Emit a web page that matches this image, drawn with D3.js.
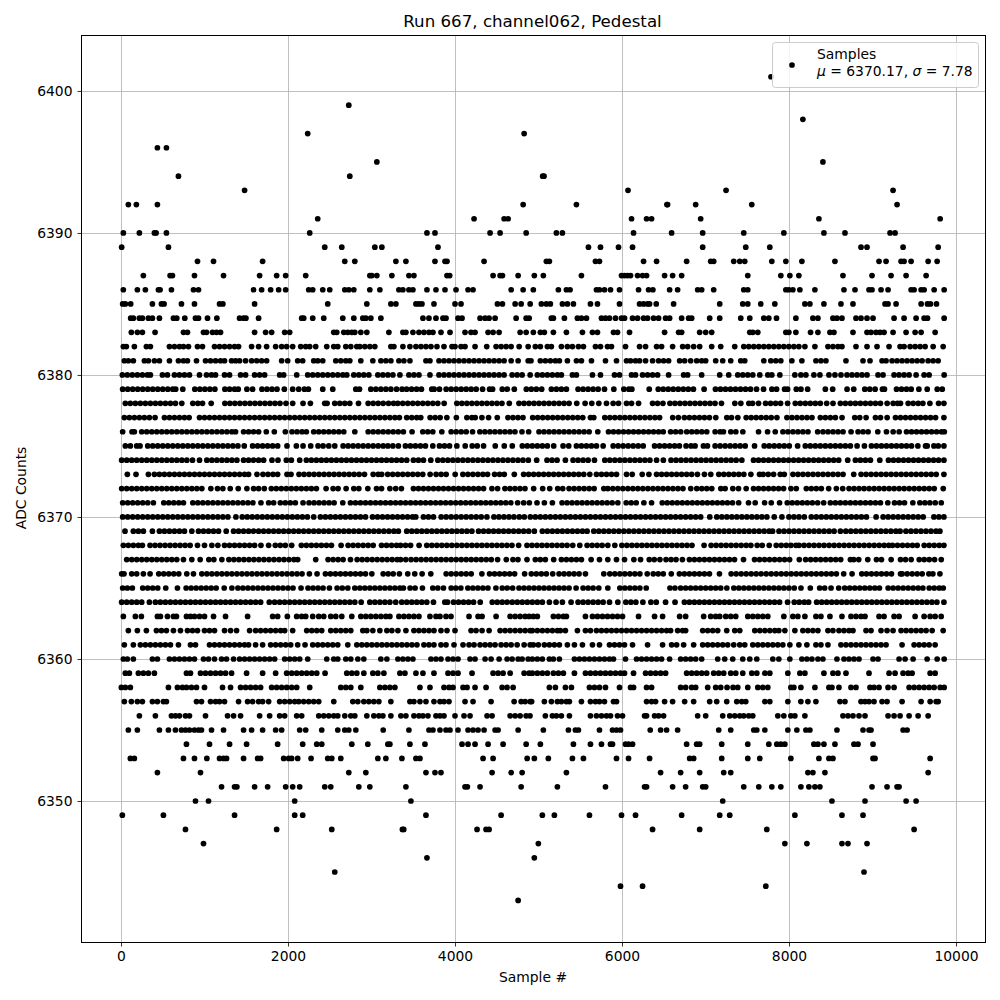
<!DOCTYPE html>
<html><head><meta charset="utf-8">
<script src="https://cdn.jsdelivr.net/npm/d3@7"></script>
<style>html,body{margin:0;padding:0;background:#fff}svg{display:block}text{font-family:"DejaVu Sans";fill:#000}</style>
</head><body><svg id="c" width="1000" height="1000"></svg>
<script>
// Values estimated by eye from the reference; inside solid bands the positions are hand estimates of the visible blobs.
const title="Run 667, channel062, Pedestal", xLabel="Sample #", yLabel="ADC Counts";
const xTicks=[0,2000,4000,6000,8000,10000], yTicks=[6350,6360,6370,6380,6390,6400];
const row6401=[7784];
const row6399=[2728];
const row6398=[8166];
const row6397=[2236,4828];
const row6396=[436,544];
const row6395=[3064,8406];
const row6394=[688,2740,5050,5066];
const row6393=[1480,6072,7246,9246];
const row6392=[88,184,436,4816,5454,6538,6546,6882,7554,9294];
const row6391=[2356,4228,4588,4636,6114,6294,6354,6942,8358,9810];
const row6390=[28,220,400,420,544,2260,3664,3760,4420,4540,4852,5214,5286,6138,6594,6966,7458,7938,8418,8670,9210,9270];
const row6389=[8,568,2440,2644,3040,3124,3796,5598,5742,5958,6126,6966,7482,7770,8862,8934,9366,9786];
const row6388=[916,1108,1696,2680,2800,3292,3412,3760,3880,3904,4348,5094,5130,5682,5730,6258,6414,6774,7062,7098,7338,7410,7470,7794,7962,8154,8550,9078,9162,9342,9378,9462,9666,9774];
const row6387=[268,588,616,880,1228,1660,1864,1972,2212,2980,3004,3064,3244,3448,3508,3904,3936,4456,4540,4568,4756,4950,5058,5514,5994,6030,6066,6102,6186,6246,6294,6510,6606,6714,7506,7902,8010,8118,8646,8994,9222,9402,9642];
const row6386=[28,196,292,448,468,604,868,928,1588,1684,1792,1888,1972,2248,2296,2416,2500,2680,2728,2788,2980,3100,3328,3376,3448,3496,3664,3772,3880,4012,4156,4216,4672,4816,4938,5238,5334,5378,5694,5730,5790,5862,5970,6198,6318,6370,6570,6666,6906,6954,7098,7458,7506,7962,7998,8046,8130,8310,8658,8790,8958,8994,9102,9186,9462,9498,9582,9618,9738,9858];
const row6385=[20,52,116,376,484,516,724,880,1180,1220,1600,2476,2944,3232,3292,3532,3568,3604,3748,4000,4072,4508,4568,4720,4792,4900,5034,5094,5142,5286,5346,5418,5622,5706,5970,6210,6258,6306,6330,6410,6618,7170,7446,7506,7662,7830,8190,8250,8418,8622,8766,9150,9186,9282,9582,9658,9694,9766];
const row6384=[116,148,220,256,328,376,460,628,668,764,892,928,1036,1148,1420,1468,1496,1648,2164,2188,2296,2428,2656,2788,2896,2932,2992,3112,3616,3688,3772,3856,3892,4036,4084,4300,4360,4408,4480,4732,4852,4888,5154,5178,5310,5466,5514,5574,5754,5802,5850,5922,5994,6030,6126,6186,6258,6306,6378,6438,6522,6570,6714,6798,6834,7050,7170,7422,7530,7698,7758,7850,8082,8286,8346,8526,8574,8634,8802,8862,8934,9006,9258,9378,9522,9618,9658,9858];
const row6383=[124,196,256,408,748,796,988,1024,1096,1144,1192,1600,1732,1804,1960,2020,2548,2584,2668,2716,2764,2800,2872,2944,3208,3376,3412,3496,3568,3628,3688,3736,3832,3940,4120,4192,4240,4396,4456,4528,4780,4852,4938,5022,5070,5178,5334,5526,5646,5706,5898,5946,6090,6510,6678,6714,6930,7002,7074,7530,7566,7626,7962,7998,8082,8258,8346,8490,8538,8766,8934,8982,9042,9090,9138,9246,9402,9510,9582,9750];
const row6382=[28,64,160,304,352,580,640,700,748,808,916,976,1120,1180,1240,1300,1360,1408,1564,1648,1744,1852,1924,1984,2056,2152,2212,2260,2332,2464,2548,2596,2692,2752,2824,2860,2920,2980,3040,3232,3268,3376,3460,3532,3592,3652,3712,3784,3868,3964,4000,4072,4120,4240,4380,4492,4552,4612,4672,4768,4876,4962,5022,5106,5154,5274,5346,5406,5478,5538,5682,5742,5826,5874,6042,6210,6282,6414,6474,6606,6726,6786,6858,6930,7074,7182,7350,7458,7518,7578,7638,7698,7758,7818,7878,7938,7998,8058,8118,8190,8310,8466,8526,8586,8634,8802,8934,9054,9198,9330,9378,9450,9510,9570,9630,9726,9846];
const row6381=[40,88,148,280,328,400,460,580,688,748,796,904,1012,1072,1132,1192,1240,1324,1372,1420,1492,1564,1624,1684,1744,1924,1996,2116,2176,2308,2356,2416,2572,2632,2692,2740,2872,3016,3112,3172,3232,3328,3388,3460,3652,3700,3808,3868,3928,3988,4048,4108,4168,4228,4288,4348,4408,4468,4528,4588,4672,4756,4876,4910,5022,5082,5142,5202,5250,5346,5454,5514,5634,5802,5934,6054,6102,6162,6210,6282,6366,6438,6498,6558,6690,6750,6822,6894,6954,7002,7122,7206,7302,7422,7470,7698,7782,7842,7902,8034,8154,8322,8382,8442,8682,8886,8970,9114,9162,9234,9294,9354,9414,9474,9534,9594,9666,9726,9786];
const row6380=[16,76,136,196,256,316,352,496,556,640,700,760,820,940,1024,1084,1132,1240,1300,1432,1492,1600,1660,1720,1900,1948,2104,2236,2296,2356,2416,2476,2536,2596,2656,2704,2788,2848,2908,2968,3076,3136,3196,3256,3340,3448,3508,3568,3700,3808,3868,3928,3988,4048,4108,4168,4228,4288,4348,4408,4468,4528,4588,4684,4744,4804,4900,4986,5046,5106,5166,5226,5274,5406,5454,5646,5742,5910,5970,6114,6162,6246,6306,6366,6426,6558,6738,6786,6954,7170,7278,7386,7446,7506,7566,7650,7746,7794,7890,8070,8142,8202,8298,8370,8478,8550,8622,8694,8754,8814,8874,8934,9066,9126,9258,9318,9378,9438,9522,9618,9678,9858];
const row6379=[20,80,140,200,260,320,380,440,500,560,620,655,740,884,944,1004,1064,1124,1244,1300,1360,1404,1508,1576,1688,1748,1808,1868,1956,2056,2128,2196,2244,2416,2536,2812,2856,2992,3052,3112,3172,3232,3300,3366,3420,3480,3540,3598,3722,3750,3814,3894,3954,4014,4074,4134,4194,4254,4330,4414,4450,4566,4626,4710,4854,4914,4974,5038,5154,5214,5274,5334,5474,5534,5594,5654,5714,5790,5902,6022,6082,6118,6326,6434,6494,6554,6614,6674,6734,6794,6855,6983,7119,7179,7239,7299,7359,7419,7479,7539,7611,7695,7795,7851,7947,7983,8087,8143,8223,8435,8523,8695,8775,8907,8967,9031,9119,9143,9287,9347,9407,9463,9555,9655,9775,9835];
const row6378=[52,112,172,232,292,352,412,472,532,592,652,728,860,920,976,1080,1244,1304,1364,1424,1484,1544,1604,1664,1724,1784,1844,1904,1976,2056,2180,2268,2440,2468,2560,2620,2680,2740,2844,2960,3020,3080,3140,3204,3264,3314,3374,3434,3494,3554,3614,3674,3734,3794,3870,4022,4082,4142,4202,4262,4322,4382,4442,4502,4562,4650,4766,4826,4886,4946,5006,5066,5126,5186,5246,5306,5366,5458,5558,5638,5722,5814,5894,5958,6054,6114,6198,6366,6426,6490,6574,6634,6694,6754,6814,6874,6934,6994,7054,7114,7191,7351,7423,7519,7563,7635,7719,7779,7839,7899,7983,8075,8135,8195,8255,8315,8375,8451,8527,8615,8675,8735,8795,8855,8915,8975,9035,9095,9175,9247,9299,9335,9427,9487,9547,9603,9687,9791,9855];
const row6377=[40,100,160,220,280,340,408,520,580,640,700,760,816,940,1000,1060,1120,1180,1240,1300,1360,1420,1480,1540,1600,1660,1720,1780,1840,1900,1960,2020,2080,2140,2200,2260,2320,2380,2440,2500,2560,2620,2680,2740,2800,2860,2920,2980,3040,3100,3160,3220,3280,3334,3422,3482,3542,3590,3702,3762,3822,3902,4016,4142,4202,4242,4322,4402,4506,4634,4694,4754,4814,4930,4990,5050,5110,5170,5230,5290,5350,5410,5470,5530,5622,5662,5794,5854,5914,5974,6034,6094,6154,6214,6274,6334,6394,6450,6607,6675,6747,6807,6867,6927,6987,7047,7123,7255,7311,7387,7487,7547,7607,7667,7727,7787,7855,7975,8035,8095,8155,8215,8275,8375,8435,8495,8555,8635,8787,8847,8923,9035,9095,9175,9275,9335,9395,9455,9515,9575,9635,9695,9755,9855];
const row6376=[20,132,160,248,308,368,428,488,548,608,668,728,788,848,908,968,1028,1088,1148,1208,1268,1328,1372,1468,1528,1588,1648,1740,1836,1968,2048,2108,2168,2220,2308,2368,2428,2488,2548,2608,2668,2800,2960,3020,3080,3140,3200,3260,3320,3382,3486,3614,3674,3734,3842,3954,4014,4074,4134,4210,4298,4358,4418,4478,4538,4598,4658,4718,4802,4882,5006,5066,5126,5186,5246,5306,5366,5426,5486,5546,5606,5710,5838,5898,5958,6018,6078,6138,6198,6258,6318,6378,6438,6494,6582,6642,6703,6775,6835,6895,6955,7015,7115,7175,7215,7303,7363,7447,7635,7743,7835,7927,7987,8047,8107,8167,8227,8343,8407,8467,8527,8587,8647,8743,8827,8887,8947,9063,9167,9247,9319,9407,9467,9527,9587,9647,9707,9767,9827,9860];
const row6375=[52,112,188,228,320,380,440,500,560,620,680,740,800,860,920,980,1040,1100,1160,1220,1280,1340,1400,1476,1576,1636,1696,1756,1816,1876,1988,2100,2180,2272,2360,2420,2488,2560,2660,2720,2780,2840,2900,2960,3020,3080,3140,3196,3256,3322,3406,3466,3526,3586,3646,3734,3814,3874,3934,4022,4122,4206,4266,4342,4482,4590,4686,4806,4866,4926,4986,5046,5106,5182,5294,5362,5454,5514,5574,5634,5694,5774,5894,5954,6014,6074,6134,6194,6254,6390,6450,6510,6570,6630,6687,6767,6827,6875,6975,7023,7115,7175,7235,7295,7355,7415,7475,7587,7703,7763,7823,7883,7943,8003,8103,8195,8255,8315,8375,8435,8495,8555,8615,8675,8735,8815,8903,8987,9047,9107,9167,9227,9287,9347,9407,9467,9543,9635,9655,9735,9787,9855];
const row6374=[8,68,128,188,248,308,368,428,488,548,608,668,728,788,856,940,1028,1088,1148,1208,1268,1328,1388,1468,1528,1588,1648,1708,1808,1880,1980,2040,2140,2220,2280,2340,2400,2460,2520,2580,2640,2700,2760,2820,2880,2940,3000,3060,3120,3180,3240,3300,3360,3422,3502,3562,3622,3710,3794,3854,3914,3974,4034,4094,4154,4214,4274,4334,4394,4454,4514,4574,4634,4694,4754,4814,4878,4978,5102,5162,5222,5322,5414,5474,5534,5594,5670,5794,5854,5914,5974,6034,6094,6154,6214,6274,6334,6414,6495,6587,6647,6707,6767,6827,6887,6947,7007,7067,7127,7187,7247,7307,7367,7435,7575,7635,7695,7755,7815,7875,7935,7995,8055,8115,8175,8235,8295,8355,8415,8475,8535,8595,8703,8795,8855,8915,8975,9087,9191,9251,9311,9371,9431,9491,9551,9611,9671,9731,9791,9855];
const row6373=[76,180,328,400,460,520,580,640,700,760,820,880,940,1000,1060,1120,1180,1240,1300,1360,1420,1480,1528,1628,1700,1760,1820,1876,1988,2036,2132,2192,2252,2312,2372,2432,2492,2552,2612,2672,2732,2792,2852,2916,3020,3080,3122,3194,3254,3314,3374,3434,3494,3554,3614,3702,3774,3834,3894,4002,4094,4154,4214,4274,4334,4390,4474,4534,4590,4710,4822,4882,4942,5002,5062,5122,5182,5242,5302,5362,5422,5482,5542,5614,5694,5754,5814,5874,5934,6054,6122,6242,6322,6414,6474,6534,6594,6654,6714,6774,6834,6903,6987,7063,7159,7219,7279,7339,7399,7459,7543,7647,7690,7751,7815,7895,7943,8047,8107,8167,8227,8287,8347,8407,8467,8527,8587,8647,8775,8863,8923,8983,9043,9103,9163,9223,9283,9343,9403,9463,9523,9583,9643,9703,9763,9855];
const row6372=[8,68,128,188,248,308,368,428,488,548,608,668,728,788,848,908,968,1076,1156,1220,1308,1404,1508,1588,1648,1716,1800,1860,1920,1980,2040,2100,2160,2220,2280,2340,2456,2540,2600,2696,2788,2848,2956,3060,3120,3220,3290,3358,3502,3562,3622,3682,3742,3802,3862,3922,3982,4042,4102,4162,4222,4282,4342,4442,4510,4598,4658,4718,4778,4838,4942,5050,5134,5230,5290,5366,5426,5486,5546,5606,5666,5782,5830,5890,5950,6010,6070,6130,6190,6250,6310,6370,6430,6490,6550,6610,6670,6730,6823,6895,6955,7015,7075,7183,7235,7327,7395,7487,7575,7635,7695,7755,7815,7875,7935,8023,8087,8207,8267,8327,8387,8475,8567,8643,8719,8779,8839,8899,8959,9019,9079,9139,9199,9259,9319,9379,9439,9499,9559,9619,9679,9739,9847];
const row6371=[20,80,140,200,260,320,388,512,572,632,692,748,860,920,980,1040,1100,1160,1220,1280,1340,1400,1460,1520,1580,1676,1768,1828,1908,1968,2028,2088,2180,2252,2312,2372,2432,2492,2552,2656,2748,2808,2868,2928,2988,3048,3108,3168,3228,3288,3348,3408,3468,3528,3588,3648,3708,3768,3828,3888,3948,4008,4068,4128,4188,4248,4308,4368,4428,4488,4548,4608,4668,4750,4822,4890,4982,5070,5166,5282,5342,5402,5462,5522,5582,5642,5702,5762,5822,5882,5950,6050,6110,6170,6262,6354,6482,6542,6602,6662,6722,6782,6842,6902,6962,7022,7082,7142,7202,7262,7323,7397,7515,7595,7707,7787,7887,7979,8039,8099,8159,8219,8279,8343,8415,8495,8555,8615,8675,8735,8795,8855,8915,8975,9035,9095,9183,9263,9323,9383,9483,9567,9627,9687,9751,9823];
const row6370=[20,80,140,200,260,320,380,440,500,560,620,680,740,800,860,920,980,1040,1100,1160,1220,1280,1376,1452,1512,1572,1632,1692,1752,1812,1872,1932,1992,2052,2112,2172,2232,2308,2388,2448,2508,2568,2628,2688,2748,2808,2868,2928,3012,3072,3132,3192,3252,3312,3372,3432,3492,3530,3622,3682,3742,3834,3894,3954,4014,4074,4134,4194,4254,4314,4382,4466,4526,4586,4646,4706,4770,4830,4902,4962,5022,5082,5142,5202,5262,5322,5382,5442,5502,5562,5622,5682,5742,5802,5862,5922,5982,6042,6102,6162,6222,6282,6342,6402,6462,6522,6582,6642,6702,6762,6822,6882,6942,7051,7135,7195,7255,7315,7375,7435,7495,7555,7615,7675,7735,7823,7915,7999,8059,8119,8183,8267,8327,8387,8447,8507,8567,8627,8687,8747,8807,8867,8927,9043,9127,9187,9247,9307,9367,9427,9487,9547,9607,9735,9795,9855];
const row6369=[48,148,208,268,376,460,520,580,640,700,760,848,928,988,1048,1108,1168,1260,1348,1408,1468,1528,1588,1648,1708,1768,1828,1888,1948,2008,2068,2128,2188,2248,2308,2368,2428,2488,2548,2608,2668,2728,2788,2848,2908,2968,3028,3088,3148,3208,3268,3322,3422,3482,3542,3602,3662,3722,3782,3842,3902,3962,4022,4082,4142,4202,4282,4342,4402,4462,4522,4582,4642,4702,4762,4822,4882,4950,5046,5106,5166,5226,5286,5346,5406,5466,5526,5582,5662,5722,5782,5842,5902,5962,6022,6082,6142,6202,6262,6322,6382,6442,6502,6562,6622,6682,6742,6802,6862,6922,6982,7042,7102,7162,7222,7282,7342,7402,7462,7522,7582,7642,7702,7762,7803,7880,7940,8000,8060,8120,8180,8240,8300,8360,8420,8480,8540,8615,8680,8740,8800,8860,8920,8980,9040,9100,9160,9220,9280,9330,9400,9460,9520,9580,9640,9700,9760,9807];
const row6368=[28,88,148,208,256,348,408,468,528,588,648,708,768,828,916,1000,1088,1160,1240,1300,1360,1420,1480,1540,1600,1676,1768,1848,1908,1968,2044,2160,2220,2280,2340,2400,2460,2520,2636,2720,2780,2840,2900,2960,3020,3120,3180,3240,3300,3348,3408,3468,3570,3662,3722,3782,3842,3902,3962,4022,4082,4142,4202,4262,4322,4382,4442,4502,4562,4622,4682,4762,4862,4922,4982,5042,5102,5162,5222,5282,5342,5410,5494,5582,5642,5702,5762,5830,5914,5998,6058,6118,6178,6238,6298,6358,6418,6478,6538,6598,6658,6718,6778,6838,6983,7067,7127,7187,7247,7307,7367,7427,7487,7543,7619,7679,7763,7847,7907,7967,8023,8083,8120,8180,8240,8300,8360,8420,8480,8540,8600,8660,8720,8780,8840,8900,8960,9020,9080,9140,9195,9239,9299,9359,9419,9479,9535,9619,9679,9739,9799,9855];
const row6367=[68,128,188,248,308,368,428,488,548,608,668,748,848,948,1052,1112,1208,1292,1352,1412,1472,1532,1592,1652,1712,1772,1832,1892,1952,2012,2072,2116,2332,2480,2540,2600,2660,2748,2828,2888,2948,3008,3068,3128,3188,3248,3308,3348,3410,3474,3534,3594,3654,3714,3774,3834,3894,3954,4014,4074,4134,4194,4254,4314,4374,4434,4510,4614,4694,4754,4862,4962,5022,5082,5182,5274,5334,5394,5454,5514,5630,5730,5830,5934,6030,6142,6222,6326,6386,6454,6527,6587,6647,6723,6807,6867,6927,6987,7047,7107,7167,7227,7287,7347,7455,7587,7647,7707,7767,7827,7887,7947,8007,8123,8199,8259,8319,8379,8439,8499,8559,8619,8735,8775,8835,8943,9047,9107,9223,9335,9395,9463,9559,9619,9679,9743,9823];
const row6366=[8,36,128,188,268,348,452,512,572,632,692,788,868,968,1028,1088,1148,1208,1268,1328,1388,1448,1508,1568,1628,1688,1748,1808,1868,1928,1988,2048,2108,2168,2256,2348,2448,2508,2568,2628,2688,2748,2808,2868,2928,3004,3140,3200,3260,3334,3434,3518,3606,3710,3894,3954,4014,4074,4134,4194,4322,4414,4474,4534,4594,4654,4714,4834,4914,4974,5034,5094,5170,5246,5306,5366,5426,5486,5562,5782,5854,5914,5974,6034,6094,6154,6214,6302,6374,6434,6494,6590,6687,6747,6807,6867,6927,6987,7047,7167,7307,7367,7427,7487,7547,7607,7667,7727,7787,7847,7907,7967,8027,8087,8147,8207,8267,8327,8387,8447,8507,8567,8655,8755,8871,8927,8987,9047,9107,9167,9227,9335,9355,9415,9475,9535,9595,9675,9723,9807];
const row6365=[20,76,136,260,320,380,440,536,676,780,840,900,960,1020,1080,1140,1236,1328,1400,1460,1520,1580,1640,1700,1760,1820,1880,1940,2000,2060,2156,2240,2300,2360,2420,2496,2588,2650,2716,2800,2860,2920,2980,3040,3100,3160,3220,3280,3340,3382,3462,3522,3610,3734,3794,3862,3954,4010,4070,4154,4214,4274,4334,4394,4490,4566,4626,4690,4766,4826,4886,4946,5006,5066,5126,5186,5246,5306,5366,5450,5534,5594,5654,5722,5830,5974,6034,6094,6154,6214,6290,6574,6634,6702,6762,6822,6882,6942,7002,7062,7122,7182,7255,7339,7399,7459,7519,7579,7639,7699,7759,7819,7879,7939,7999,8063,8143,8255,8367,8427,8503,8595,8667,8727,8787,8847,8907,8967,9027,9083,9187,9247,9307,9367,9427,9487,9547,9603,9679,9739,9799,9847];
const row6364=[8,68,128,188,248,340,412,472,532,592,652,712,772,832,892,952,1012,1072,1132,1192,1252,1312,1372,1432,1492,1552,1612,1672,1776,1840,1900,1960,2020,2080,2140,2200,2260,2320,2380,2440,2500,2560,2620,2680,2740,2800,2876,2980,3040,3100,3160,3220,3290,3362,3422,3482,3542,3602,3662,3742,3878,3910,3982,4042,4102,4162,4222,4302,4446,4506,4566,4626,4686,4746,4806,4866,4926,4986,5046,5130,5210,5286,5390,5474,5534,5594,5654,5714,5774,5850,5950,6046,6106,6166,6250,6346,6410,6522,6635,6747,6807,6867,6927,6987,7047,7107,7167,7227,7287,7347,7407,7467,7527,7587,7647,7707,7767,7827,7887,7983,8063,8123,8183,8235,8331,8391,8451,8511,8571,8631,8691,8751,8811,8871,8931,8991,9051,9111,9171,9231,9291,9351,9411,9471,9531,9591,9651,9711,9771,9855];
const row6363=[28,172,244,436,472,556,628,664,784,832,880,940,1000,1108,1252,1516,1816,1876,1992,2104,2164,2212,2296,2368,2428,2512,2572,2644,2764,2872,2932,2992,3052,3112,3172,3220,3328,3388,3448,3508,3568,3700,3772,3820,3892,3952,4168,4276,4324,4492,4660,4720,4780,4840,4888,4938,4986,5178,5238,5298,5334,5562,5646,5706,5766,5826,5886,5946,6006,6198,6390,6486,6690,6762,6978,7062,7122,7170,7242,7302,7362,7506,7566,7626,7686,7746,7938,8046,8106,8190,8322,8382,8490,8634,8742,8802,8862,8910,9078,9138,9258,9318,9510,9618,9690,9750,9822];
const row6362=[88,196,304,424,484,544,628,712,796,856,916,1000,1060,1120,1240,1312,1384,1540,1612,1672,1732,1792,1852,1912,1960,2056,2224,2284,2344,2404,2512,2572,2632,2692,2752,2896,2944,3016,3100,3184,3244,3316,3412,3508,3568,3628,3688,3748,3832,3904,4000,4192,4252,4324,4408,4540,4600,4660,4720,4780,4840,4900,4926,4986,5046,5106,5166,5226,5262,5322,5466,5562,5622,5694,5754,5814,5874,5934,5994,6054,6114,6174,6234,6294,6354,6414,6474,6534,6582,6666,6726,6762,6966,7026,7086,7146,7254,7350,7410,7590,7650,7710,7770,7830,7878,7950,8070,8166,8226,8286,8346,8466,8526,8598,8658,8718,8766,8922,8982,9102,9174,9246,9342,9402,9462,9522,9582,9642,9714,9846];
const row6361=[40,148,232,292,352,412,472,532,592,688,832,892,1060,1120,1180,1240,1300,1360,1420,1480,1528,1612,1696,1792,1852,1912,1972,2032,2116,2204,2296,2356,2416,2476,2536,2596,2716,2824,2884,2944,3004,3064,3124,3184,3244,3304,3364,3424,3484,3544,3628,3688,3748,3832,3892,3988,4096,4168,4228,4300,4360,4420,4480,4552,4612,4672,4744,4828,4900,4938,4998,5070,5130,5190,5250,5346,5430,5526,5646,5730,5850,5910,5970,6030,6126,6306,6486,6594,6654,6738,6858,6966,7026,7086,7146,7206,7266,7338,7410,7470,7566,7626,7686,7746,7806,7866,7926,8010,8118,8214,8322,8382,8466,8622,8682,8742,8802,8862,8922,8982,9042,9102,9162,9354,9498,9558,9618,9678,9750];
const row6360=[28,76,148,376,436,580,640,700,760,820,880,988,1048,1120,1204,1264,1348,1420,1480,1540,1600,1660,1720,1780,1840,1960,2020,2080,2140,2236,2464,2548,2596,2692,2752,2836,2908,3112,3184,3316,3376,3436,3496,3712,3772,3832,3916,3976,4036,4180,4240,4360,4432,4528,4624,4684,4756,4804,4876,4926,4986,5046,5130,5178,5250,5430,5490,5550,5610,5670,5730,5790,5850,5898,6042,6174,6234,6294,6354,6414,6474,6570,6702,6762,6822,6882,6954,7146,7230,7326,7446,7530,7614,7806,7878,8010,8154,8214,8274,8346,8406,8574,8658,8718,8778,8838,9006,9066,9318,9390,9486,9654,9774,9858];
const row6359=[52,100,208,268,328,400,784,832,952,1012,1072,1132,1192,1252,1324,1504,1696,1852,1984,2044,2104,2164,2224,2284,2344,2444,2704,2764,2824,2908,3016,3076,3148,3340,3400,3532,3616,3748,3916,3976,4036,4204,4456,4516,4576,4660,4828,4888,4926,4986,5046,5106,5178,5238,5298,5430,5562,5622,5682,5742,5802,5862,5922,5982,6030,6138,6282,6342,6402,6462,6522,6774,6834,6894,6954,7014,7098,7158,7218,7302,7362,7446,7554,7614,7710,7770,7986,8130,8190,8418,8526,8586,8682,8958,9198,9270,9366,9426,9474,9690,9750];
const row6358=[4,52,112,568,676,736,784,844,904,1000,1216,1312,1432,1492,1552,1612,1672,1804,1864,1924,1984,2044,2104,2260,2632,2692,2752,2872,3100,3160,3220,3280,3580,3700,3868,3928,3976,4096,4144,4240,4372,4564,4624,4696,5130,5202,5322,5394,5610,5670,5730,5802,5970,6102,6138,6294,6354,6702,6762,6834,6882,7026,7122,7182,7258,7330,7386,7506,7626,7686,7746,8022,8058,8142,8310,8478,8514,8598,8742,8802,8970,9018,9078,9186,9258,9438,9498,9558,9618,9678,9738,9810,9858];
const row6357=[40,124,196,256,376,436,508,544,904,964,1072,1132,1180,1240,1408,1516,1576,1648,1696,1768,1900,1960,2020,2080,2128,2188,2248,2308,2368,2548,2776,2836,2908,2968,3028,3088,3232,3460,3508,3580,3652,3748,3820,3868,3928,4120,4216,4432,4708,4792,4840,4900,4918,5070,5154,5226,5274,5334,5370,5514,5622,5682,5730,5790,5898,5934,6294,6354,6402,6510,6606,6750,6858,7050,7134,7254,7374,7434,7482,7710,7770,7986,8142,8226,8322,8610,8670,8862,8910,8958,9018,9114,9174,9354,9582,9690,9762,9786];
const row6356=[220,412,604,652,700,772,820,1012,1276,1348,1432,1660,1780,1900,1960,2104,2164,2368,2428,2488,2548,2596,2680,2752,2800,2944,3028,3088,3136,3232,3352,3412,3508,3568,3616,3676,3772,3820,3868,4000,4108,4180,4384,4444,4660,4720,4780,4852,4898,5082,5166,5214,5274,5370,5622,5694,5754,5814,5862,5946,6006,6270,6294,6390,6438,6498,6906,7002,7206,7290,7350,7410,7458,7518,7566,7866,7938,8022,8070,8190,8646,8706,8766,8838,8910,9186,9258,9330,9438,9546,9666];
const row6355=[88,196,460,568,652,724,772,820,880,928,964,1084,1228,1468,1564,1696,1852,1924,2140,2212,2404,2596,2680,2728,2812,3140,3448,3688,3736,3820,3892,3940,4036,4156,4216,4276,4348,4480,4516,4756,5058,5358,5442,5478,5730,5886,5934,5982,6338,6462,6534,6666,7158,7302,7578,7614,7710,7986,8094,8202,8250,8574,8886,8958,8982,9366,9414];
const row6354=[784,1060,1300,1504,1876,2176,2344,2404,2764,2956,3196,3220,3460,3640,4084,4156,4240,4396,4576,4852,5022,5418,5622,5754,5862,5886,6042,6078,6126,6774,6894,6930,7194,7506,7758,7854,7902,7950,8298,8346,8418,8550,8778,8826,9006];
const row6353=[112,160,748,880,1028,1180,1228,1264,1468,1636,1672,1948,2008,2044,2116,2276,2476,2524,2632,3076,3172,3364,3532,3580,4336,4456,4864,4950,5118,5406,5538,5934,6078,6330,6810,6858,7194,7506,7650,8022,8358,8478,8526,9006,9030,9690];
const row6352=[436,952,2728,2932,3652,3760,3832,4444,4672,4804,5334,6462,6702,6930,7218,7302,8226,8286,8430,9666];
const row6351=[1204,1360,1388,1600,1756,1972,2056,2140,2440,2512,2848,2980,3412,4120,4148,4300,4792,5226,5802,6270,6294,6606,6762,6966,7002,7458,7638,7794,7902,8142,8238,8310,8370,8994,9174,9294,9318];
const row6350=[892,1048,2080,3472,7206,8514,8910,9402,9522];
const row6349=[16,508,1360,2080,2176,3652,4552,5046,5190,5610,5994,6162,6714,7170,7290,8070,8634,8886];
const row6348=[772,1864,2524,3370,3386,4264,4372,4408,6366,6930,7734,9498];
const row6347=[988,4998,7950,8214,8634,8706,8934];
const row6346=[3664,4950];
const row6345=[2560,8898];
const row6344=[5982,6246,7722];
const row6343=[4756];
const rows=[[6401,row6401],[6399,row6399],[6398,row6398],[6397,row6397],[6396,row6396],[6395,row6395],[6394,row6394],[6393,row6393],[6392,row6392],[6391,row6391],[6390,row6390],[6389,row6389],[6388,row6388],[6387,row6387],[6386,row6386],[6385,row6385],[6384,row6384],[6383,row6383],[6382,row6382],[6381,row6381],[6380,row6380],[6379,row6379],[6378,row6378],[6377,row6377],[6376,row6376],[6375,row6375],[6374,row6374],[6373,row6373],[6372,row6372],[6371,row6371],[6370,row6370],[6369,row6369],[6368,row6368],[6367,row6367],[6366,row6366],[6365,row6365],[6364,row6364],[6363,row6363],[6362,row6362],[6361,row6361],[6360,row6360],[6359,row6359],[6358,row6358],[6357,row6357],[6356,row6356],[6355,row6355],[6354,row6354],[6353,row6353],[6352,row6352],[6351,row6351],[6350,row6350],[6349,row6349],[6348,row6348],[6347,row6347],[6346,row6346],[6345,row6345],[6344,row6344],[6343,row6343]];

const L=81,R=985,T=35,B=942;
const x=d3.scaleLinear().domain([-479,10347]).range([L,R]);
const y=d3.scaleLinear().domain([6340.07,6403.94]).range([B,T]);
const svg=d3.select("#c");
const fs=13.89, dotR=2.85;
// grid
svg.append("g").selectAll("line").data(xTicks).join("line")
 .attr("x1",d=>Math.round(x(d))+.5).attr("x2",d=>Math.round(x(d))+.5).attr("y1",T).attr("y2",B)
 .attr("stroke","#b0b0b0").attr("stroke-width",.8);
svg.append("g").selectAll("line").data(yTicks).join("line")
 .attr("y1",d=>Math.round(y(d))+.5).attr("y2",d=>Math.round(y(d))+.5).attr("x1",L).attr("x2",R)
 .attr("stroke","#b0b0b0").attr("stroke-width",.8);
// points
const pts=rows.flatMap(([v,xs])=>xs.map(s=>({s,v})));
svg.append("g").selectAll("circle").data(pts).join("circle")
 .attr("cx",d=>x(d.s)).attr("cy",d=>y(d.v)).attr("r",dotR).attr("fill","#000");
// frame
svg.append("rect").attr("x",L+.5).attr("y",T+.5).attr("width",R-L).attr("height",B-T)
 .attr("fill","none").attr("stroke","#000").attr("stroke-width",1);
// axes
const ax=svg.append("g").attr("transform",`translate(0,${B+.5})`).call(d3.axisBottom(x).tickValues(xTicks).tickFormat(d3.format("d")).tickSize(4).tickPadding(5));
const ay=svg.append("g").attr("transform",`translate(${L+.5},0)`).call(d3.axisLeft(y).tickValues(yTicks).tickFormat(d3.format("d")).tickSize(4).tickPadding(5));
[ax,ay].forEach(g=>{g.select(".domain").remove();g.selectAll("line").attr("stroke","#000").attr("stroke-width",.8);
 g.selectAll("text").attr("font-family","DejaVu Sans").attr("font-size",fs).attr("fill","#000");});
// titles
svg.append("text").attr("x",532.5).attr("y",27).attr("text-anchor","middle").attr("font-size",16.67).text(title);
svg.append("text").attr("x",533).attr("y",982).attr("text-anchor","middle").attr("font-size",fs).text(xLabel);
svg.append("text").attr("transform","translate(26,488) rotate(-90)").attr("text-anchor","middle").attr("font-size",fs).text(yLabel);
// legend
svg.append("rect").attr("x",772.5).attr("y",42.5).attr("width",206).attr("height",45).attr("rx",3)
 .attr("fill","#fff").attr("fill-opacity",.8).attr("stroke","#ccc").attr("stroke-width",1);
svg.append("circle").attr("cx",792).attr("cy",65).attr("r",dotR).attr("fill","#000");
svg.append("text").attr("x",817).attr("y",59).attr("font-size",fs).text("Samples");
const t=svg.append("text").attr("x",817).attr("y",76).attr("font-size",fs);
t.append("tspan").attr("font-style","italic").text("μ");
t.append("tspan").text(" = 6370.17, ");
t.append("tspan").attr("font-style","italic").text("σ");
t.append("tspan").text(" = 7.78");
</script></body></html>
